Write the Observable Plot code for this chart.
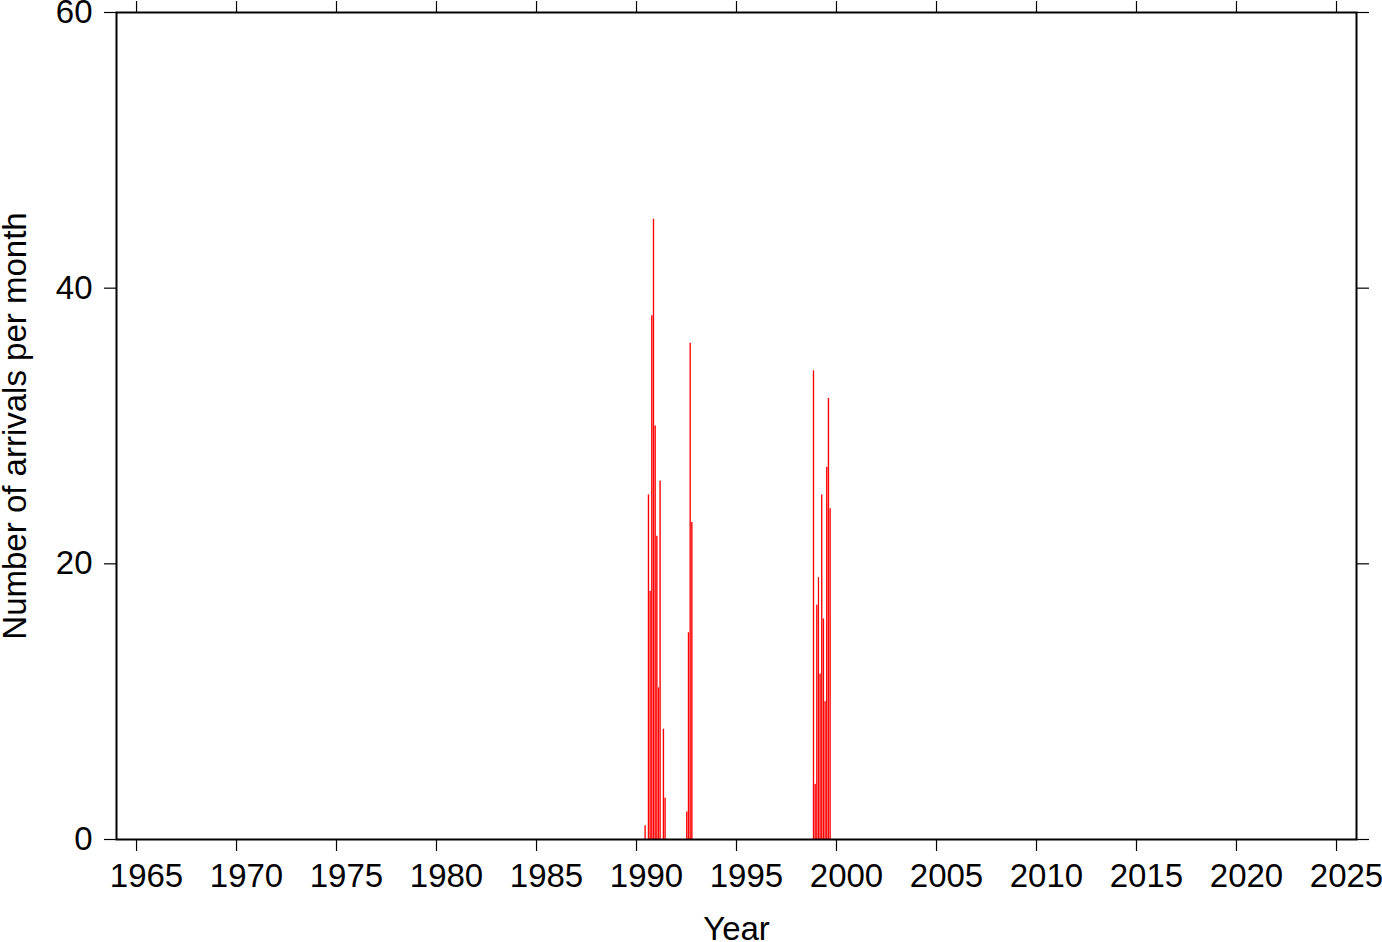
<!DOCTYPE html>
<html><head><meta charset="utf-8">
<script src="https://cdn.jsdelivr.net/npm/d3@7"></script>
<script src="https://cdn.jsdelivr.net/npm/@observablehq/plot@0.6"></script>
<style>body{margin:0;background:#fff}</style>
</head><body><div id="chart"></div>
<script>
const months = ["1990-06","1990-08","1990-09","1990-10","1990-11","1990-12","1991-01","1991-02","1991-03","1991-05","1991-06",
  "1992-07","1992-08","1992-09","1992-10",
  "1998-11","1998-12","1999-01","1999-02","1999-03","1999-04","1999-05","1999-06","1999-07","1999-08","1999-09"];
const counts = [1,25,18,38,45,30,22,11,26,8,3,
  2,15,36,23,
  34,4,17,19,12,25,16,10,27,32,24];
const xTickYears = [1965,1970,1975,1980,1985,1990,1995,2000,2005,2010,2015,2020,2025];
const yTicks = [0,20,40,60];
const xLabel = "Year";
const yLabel = "Number of arrivals per month";

const parseMonth = (s, add = 0) => { const [y, m] = s.split("-").map(Number); return new Date(Date.UTC(y, m - 1 + add, 1)); };
const data = months.map((m, i) => ({start: parseMonth(m), end: parseMonth(m, 1), count: counts[i]}));
const xTicks = xTickYears.map(y => new Date(Date.UTC(y, 0, 1)));
// year annotations are centred on the year interval
const xLabelPos = xTickYears.map(y => new Date(Date.UTC(y, 6, 2)));
const font = "'Liberation Sans', Arial, Helvetica, sans-serif";
const fs = 33;

const chart = Plot.plot({
  width: 1382, height: 942,
  marginLeft: 116, marginRight: 26, marginTop: 12, marginBottom: 103,
  style: {fontFamily: font, fontSize: fs + "px", color: "#000", background: "#fff"},
  x: {type: "utc", domain: [new Date(Date.UTC(1964, 0, 1)), new Date(Date.UTC(2026, 0, 1))]},
  y: {domain: [0, 60]},
  marks: [
    Plot.rectY(data, {x1: "start", x2: "end", y: "count", fill: "#ff0000", insetLeft: 0.15, insetRight: 0.15}),
    Plot.axisX({anchor: "bottom", ticks: xTicks, tickFormat: () => "", tickSize: 12, label: null, strokeWidth: 1.2}),
    Plot.axisX({anchor: "bottom", ticks: xLabelPos, tickFormat: d => String(d.getUTCFullYear()), tickSize: 0, tickPadding: 24, fontSize: fs, label: null}),
    Plot.axisX({anchor: "top", ticks: xTicks, tickFormat: () => "", tickSize: 12, label: null, strokeWidth: 1.2}),
    Plot.axisY({anchor: "left", ticks: yTicks, tickSize: 12, tickPadding: 12, fontSize: fs, label: null, strokeWidth: 1.2}),
    Plot.axisY({anchor: "right", ticks: yTicks, tickFormat: () => "", tickSize: 12, label: null, strokeWidth: 1.2}),
    Plot.frame({stroke: "#000", strokeWidth: 2}),
    Plot.text([xLabel], {frameAnchor: "bottom", dy: 90, lineAnchor: "middle", fontSize: fs, text: d => d}),
    Plot.text([yLabel], {frameAnchor: "left", dx: -101, rotate: -90, textAnchor: "middle", lineAnchor: "middle", fontSize: fs, text: d => d})
  ]
});
document.getElementById("chart").appendChild(chart);
</script>
</body></html>
